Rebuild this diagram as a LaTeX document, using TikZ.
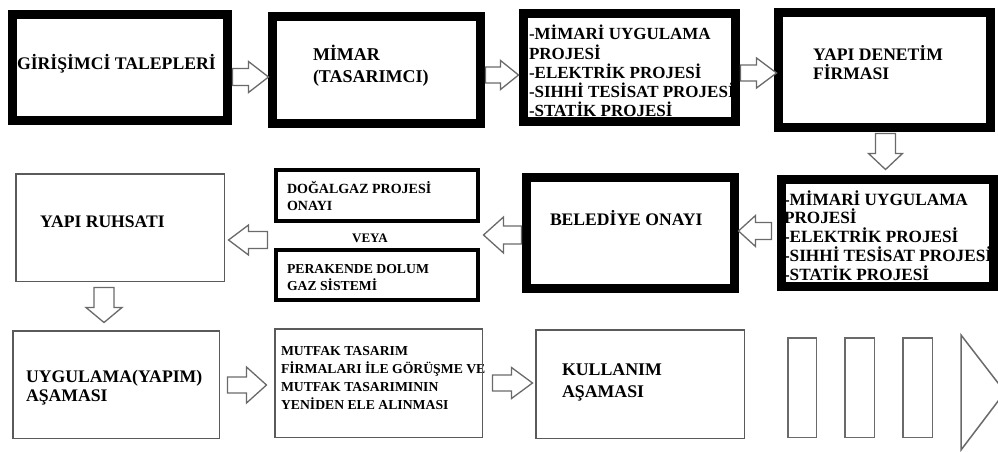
\documentclass[tikz,border=0pt]{standalone}
\usepackage{fontspec}
\setmainfont{Liberation Serif}
\definecolor{agray}{HTML}{6A6A6A}
\definecolor{bgray}{HTML}{5A5A5A}
% lines of bold text with fixed baseline distance; base anchor = first baseline
\newcommand\txtlines[3]{{\fontsize{#1}{#2}\selectfont\bfseries\lineskiplimit=-100pt\relax
  \let\\\cr\vtop{\halign{##\hfil\cr#3\crcr}}}}
% block arrow: #1 name, #2 x, #3 y, #4 rotation, #5 length, #6 head width, #7 shaft width, #8 head length
\newcommand\blockarr[8]{%
  \begin{scope}[shift={(#2,#3)}, rotate=#4]
    \coordinate (#1) at (0,0);
    \draw[arrowline] ({-#5/2},{#7/2}) -- ({#5/2-#8},{#7/2}) -- ({#5/2-#8},{#6/2})
      -- ({#5/2},0) -- ({#5/2-#8},{-#6/2}) -- ({#5/2-#8},{-#7/2}) -- ({-#5/2},{-#7/2}) -- cycle;
  \end{scope}}
\tikzset{
  lbl/.style={inner sep=0pt, outer sep=0pt, anchor=base west},
  thickbox/.style={draw=black, line width=9pt, inner sep=0pt},
  midbox/.style={draw=black, line width=4pt, inner sep=0pt},
  thinbox/.style={draw=bgray, line width=1.5pt, inner sep=0pt},
  barbox/.style={draw=agray, line width=1.5pt, inner sep=0pt},
  arrowline/.style={draw=agray, line width=1.3pt, fill=white, line join=miter}
}
\begin{document}
\begin{tikzpicture}[x=1pt,y=1pt]
\useasboundingbox (0,0) rectangle (998,-452);
\fill[white] (0,0) rectangle (998,-452);

% ---- labels (drawn first so borders lie over overflowing text)
\node[lbl] (t1) at (17,-70) {\txtlines{17.7}{21}{GİRİŞİMCİ TALEPLERİ}};
\node[lbl] (t2) at (313,-60) {\txtlines{18}{22}{MİMAR\\(TASARIMCI)}};
\node[lbl] (t3) at (529,-40) {\txtlines{17}{19.2}{-MİMARİ UYGULAMA\\PROJESİ\\-ELEKTRİK PROJESİ\\-SIHHİ TESİSAT PROJESİ\\-STATİK PROJESİ}};
\node[lbl] (t4) at (813,-60) {\txtlines{17.6}{20}{YAPI DENETİM\\FİRMASI}};
\node[lbl] (t5) at (784,-205) {\txtlines{17.2}{18.8}{-MİMARİ UYGULAMA\\PROJESİ\\-ELEKTRİK PROJESİ\\-SIHHİ TESİSAT PROJESİ\\-STATİK PROJESİ}};
\node[lbl] (t6) at (550,-225) {\txtlines{17.6}{20}{BELEDİYE ONAYI}};
\node[lbl] (t7) at (287,-193) {\txtlines{14}{17}{DOĞALGAZ PROJESİ\\ONAYI}};
\node[inner sep=0pt, anchor=base] (veya) at (370,-242) {\txtlines{13}{15}{VEYA}};
\node[lbl] (t8) at (287,-273) {\txtlines{13.7}{17}{PERAKENDE DOLUM\\GAZ SİSTEMİ}};
\node[lbl] (t9) at (40,-227) {\txtlines{17.6}{20}{YAPI RUHSATI}};
\node[lbl] (t10) at (26,-382) {\txtlines{17.7}{19.5}{UYGULAMA(YAPIM)\\AŞAMASI}};
\node[lbl] (t11) at (281,-355) {\txtlines{13.7}{18.3}{MUTFAK TASARIM\\FİRMALARI İLE GÖRÜŞME VE\\MUTFAK TASARIMININ\\YENİDEN ELE ALINMASI}};
\node[lbl] (t12) at (562,-375) {\txtlines{17.8}{22}{KULLANIM\\AŞAMASI}};

% ---- boxes
\node[thickbox, minimum width=215pt, minimum height=106pt] (b1) at (120,-67.5) {};
\node[thickbox, minimum width=208pt, minimum height=107pt] (b2) at (376.5,-70) {};
\node[thickbox, minimum width=212pt, minimum height=108pt] (b3) at (629.5,-67.5) {};
\node[thickbox, minimum width=212pt, minimum height=115pt] (b4) at (884.5,-70) {};
\node[thickbox, minimum width=212pt, minimum height=107pt] (b5) at (887.5,-233) {};
\node[thickbox, minimum width=208pt, minimum height=111pt] (b6) at (630.5,-233) {};
\node[midbox, minimum width=202pt, minimum height=51pt] (b7a) at (377,-195.5) {};
\node[midbox, minimum width=202pt, minimum height=50pt] (b7b) at (377,-275) {};
\node[thinbox, minimum width=208.5pt, minimum height=107.5pt] (b8) at (120,-227.5) {};
\node[thinbox, minimum width=206.5pt, minimum height=107.5pt] (b9) at (116,-384.5) {};
\node[thinbox, minimum width=207.5pt, minimum height=108.5pt] (b10) at (378.5,-383) {};
\node[thinbox, minimum width=208.5pt, minimum height=108.5pt] (b11) at (640,-384) {};
\node[barbox, minimum width=28.5pt, minimum height=99.5pt] (r1) at (802,-387.5) {};
\node[barbox, minimum width=29.5pt, minimum height=99.5pt] (r2) at (859.5,-387.5) {};
\node[barbox, minimum width=29.5pt, minimum height=99.5pt] (r3) at (917.5,-387.5) {};
\begin{scope}
\clip (0,0) rectangle (998,-452);
\draw[agray, line width=1.5pt, line join=miter] (961,-335) -- (1005,-392) -- (961,-450) -- cycle;
\end{scope}

% ---- block arrows
\blockarr{a1}{250.5}{-77}{0}{36}{31}{17}{20}
\blockarr{a2}{502}{-75}{0}{33}{29}{16}{18}
\blockarr{a3}{758.5}{-73}{0}{36}{30}{16}{20}
\blockarr{a4}{885.5}{-151.5}{270}{36}{34}{20}{16}
\blockarr{a5}{755}{-231}{180}{33}{31}{17}{17}
\blockarr{a6}{502.5}{-235}{180}{38}{36}{18}{20}
\blockarr{a7}{248}{-240}{180}{39}{30}{17}{20}
\blockarr{a8}{104}{-305}{270}{35}{36}{20}{15}
\blockarr{a9}{247}{-385}{0}{39}{36}{16}{20}
\blockarr{a10}{512.5}{-383}{0}{40}{31}{16}{21}
\end{tikzpicture}
\end{document}
